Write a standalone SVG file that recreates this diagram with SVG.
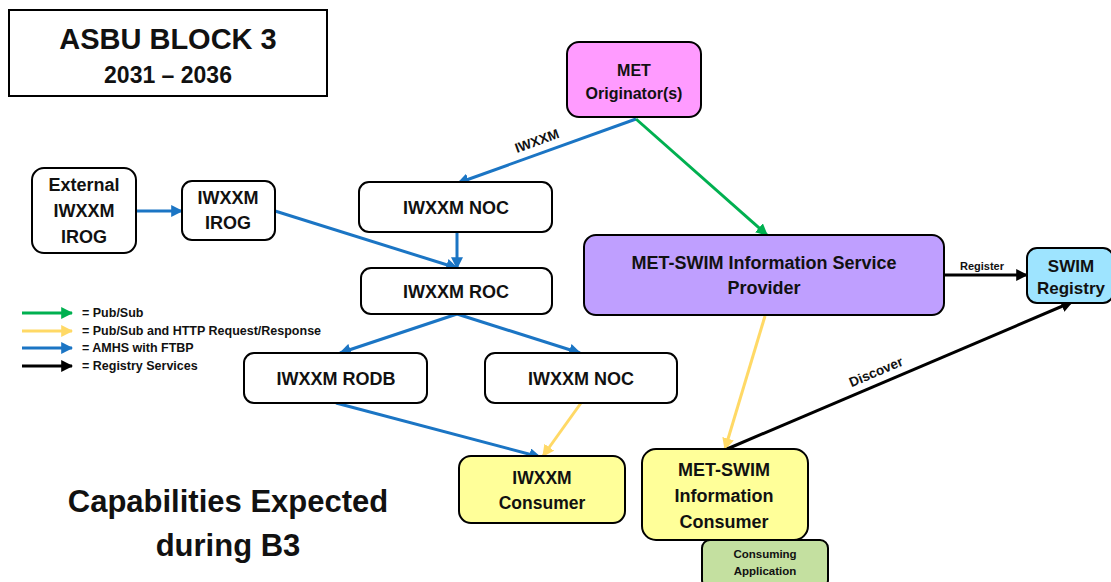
<svg xmlns="http://www.w3.org/2000/svg" width="1111" height="582" viewBox="0 0 1111 582">
  <style>
    text { font-family: "Liberation Sans", Arial, sans-serif; font-weight: bold; fill: #111; }
    .node { stroke: #000; stroke-width: 2; }
    .plain { fill: #fff; }
    .c { text-anchor: middle; dominant-baseline: central; }
    .n18 { font-size: 18px; }
    .lbl { font-size: 12.5px; }
    .blue { stroke: #1B75C4; stroke-width: 3; fill: none; marker-end: url(#ah-blue); }
    .green { stroke: #00B050; stroke-width: 3; fill: none; marker-end: url(#ah-green); }
    .yellow { stroke: #FFD966; stroke-width: 3; fill: none; marker-end: url(#ah-yellow); }
    .black { stroke: #000; stroke-width: 3; fill: none; marker-end: url(#ah-black); }
  </style>
  <defs>
    <marker id="ah-blue" viewBox="0 0 10 10" refX="9" refY="5" markerWidth="4" markerHeight="4" orient="auto"><path d="M0,0 L10,5 L0,10 z" fill="#1B75C4"/></marker>
    <marker id="ah-green" viewBox="0 0 10 10" refX="9" refY="5" markerWidth="4" markerHeight="4" orient="auto"><path d="M0,0 L10,5 L0,10 z" fill="#00B050"/></marker>
    <marker id="ah-yellow" viewBox="0 0 10 10" refX="9" refY="5" markerWidth="4" markerHeight="4" orient="auto"><path d="M0,0 L10,5 L0,10 z" fill="#FFD966"/></marker>
    <marker id="ah-black" viewBox="0 0 10 10" refX="9" refY="5" markerWidth="4" markerHeight="4" orient="auto"><path d="M0,0 L10,5 L0,10 z" fill="#000"/></marker>
  </defs>
  <rect width="1111" height="582" fill="#fff"/>

  <!-- title block -->
  <g id="title">
    <rect x="9" y="10" width="318" height="86" fill="#fff" stroke="#000" stroke-width="2"/>
    <text x="168" y="39" class="c" font-size="29">ASBU BLOCK 3</text>
    <text x="168" y="75" class="c" font-size="23">2031 – 2036</text>
  </g>

  <!-- connectors -->
  <g id="connectors">
    <line class="blue" x1="636" y1="119" x2="458" y2="183"/>
    <line class="green" x1="636" y1="119" x2="767" y2="235"/>
    <line class="blue" x1="136" y1="211" x2="182" y2="211"/>
    <line class="blue" x1="275" y1="211" x2="457" y2="268"/>
    <line class="blue" x1="457" y1="232" x2="457" y2="268"/>
    <line class="blue" x1="457" y1="314" x2="340" y2="353"/>
    <line class="blue" x1="457" y1="314" x2="580" y2="353"/>
    <line class="blue" x1="336" y1="403" x2="540" y2="457"/>
    <line class="yellow" x1="581" y1="403" x2="543" y2="456"/>
    <line class="yellow" x1="765" y1="316" x2="725" y2="449"/>
    <line class="black" x1="944" y1="275" x2="1027" y2="275"/>
    <line class="black" x1="727" y1="449" x2="1072" y2="302"/>
    <text x="537" y="141" class="c" font-size="13.5" transform="rotate(-20 537 141)">IWXXM</text>
    <text x="982" y="266" class="c" font-size="11">Register</text>
    <text x="876" y="372" class="c" font-size="13.5" transform="rotate(-23 876 372)">Discover</text>
  </g>

  <!-- nodes -->
  <g id="met-originator">
    <rect class="node" x="567" y="42" width="134" height="75" rx="12" fill="#FF9BFF"/>
    <text x="634" y="70" class="c" font-size="16">MET</text>
    <text x="634" y="93" class="c" font-size="16">Originator(s)</text>
  </g>
  <g id="external-irog">
    <rect class="node plain" x="32" y="168" width="104" height="85" rx="12"/>
    <text x="84" y="185" class="c n18">External</text>
    <text x="84" y="211" class="c n18">IWXXM</text>
    <text x="84" y="237" class="c n18">IROG</text>
  </g>
  <g id="irog">
    <rect class="node plain" x="182" y="181" width="93" height="59" rx="10"/>
    <text x="228" y="198" class="c n18">IWXXM</text>
    <text x="228" y="223" class="c n18">IROG</text>
  </g>
  <g id="noc-top">
    <rect class="node plain" x="359" y="182" width="193" height="50" rx="10"/>
    <text x="456" y="208" class="c n18">IWXXM NOC</text>
  </g>
  <g id="roc">
    <rect class="node plain" x="361" y="268" width="191" height="46" rx="10"/>
    <text x="456" y="292" class="c n18">IWXXM ROC</text>
  </g>
  <g id="rodb">
    <rect class="node plain" x="244" y="353" width="183" height="50" rx="10"/>
    <text x="336" y="379" class="c n18">IWXXM RODB</text>
  </g>
  <g id="noc-bottom">
    <rect class="node plain" x="485" y="353" width="192" height="50" rx="10"/>
    <text x="581" y="379" class="c n18">IWXXM NOC</text>
  </g>
  <g id="isp">
    <rect class="node" x="584" y="235" width="360" height="80" rx="12" fill="#BF9FFF"/>
    <text x="764" y="263" class="c n18">MET-SWIM Information Service</text>
    <text x="764" y="288" class="c n18">Provider</text>
  </g>
  <g id="swim-registry">
    <rect class="node" x="1027" y="248" width="86" height="55" rx="10" fill="#9EE4FF"/>
    <text x="1071" y="266" class="c" font-size="17">SWIM</text>
    <text x="1071" y="288" class="c" font-size="17">Registry</text>
  </g>
  <g id="iwxxm-consumer">
    <rect class="node" x="459" y="456" width="166" height="67" rx="12" fill="#FFFF99"/>
    <text x="542" y="478" class="c" font-size="17.5">IWXXM</text>
    <text x="542" y="503" class="c" font-size="17.5">Consumer</text>
  </g>
  <g id="met-consumer">
    <rect class="node" x="642" y="449" width="166" height="91" rx="14" fill="#FFFF99"/>
    <text x="724" y="470" class="c n18">MET-SWIM</text>
    <text x="724" y="496" class="c n18">Information</text>
    <text x="724" y="522" class="c n18">Consumer</text>
  </g>
  <g id="consuming-app">
    <rect class="node" x="702" y="540" width="126" height="48" rx="8" fill="#C4E0A0"/>
    <text x="765" y="554" class="c" font-size="11.5">Consuming</text>
    <text x="765" y="571" class="c" font-size="11.5">Application</text>
  </g>

  <!-- legend -->
  <g id="legend">
    <line class="green" x1="22" y1="313" x2="72" y2="313"/>
    <line class="yellow" x1="22" y1="331" x2="72" y2="331"/>
    <line class="blue" x1="22" y1="348" x2="72" y2="348"/>
    <line class="black" x1="22" y1="366" x2="72" y2="366"/>
    <text x="82" y="313" class="lbl" dominant-baseline="central">= Pub/Sub</text>
    <text x="82" y="331" class="lbl" dominant-baseline="central">= Pub/Sub and HTTP Request/Response</text>
    <text x="82" y="348" class="lbl" dominant-baseline="central">= AMHS with FTBP</text>
    <text x="82" y="366" class="lbl" dominant-baseline="central">= Registry Services</text>
  </g>

  <!-- caption -->
  <g id="caption">
    <text x="228" y="501" class="c" font-size="31">Capabilities Expected</text>
    <text x="228" y="545" class="c" font-size="31">during B3</text>
  </g>
</svg>
